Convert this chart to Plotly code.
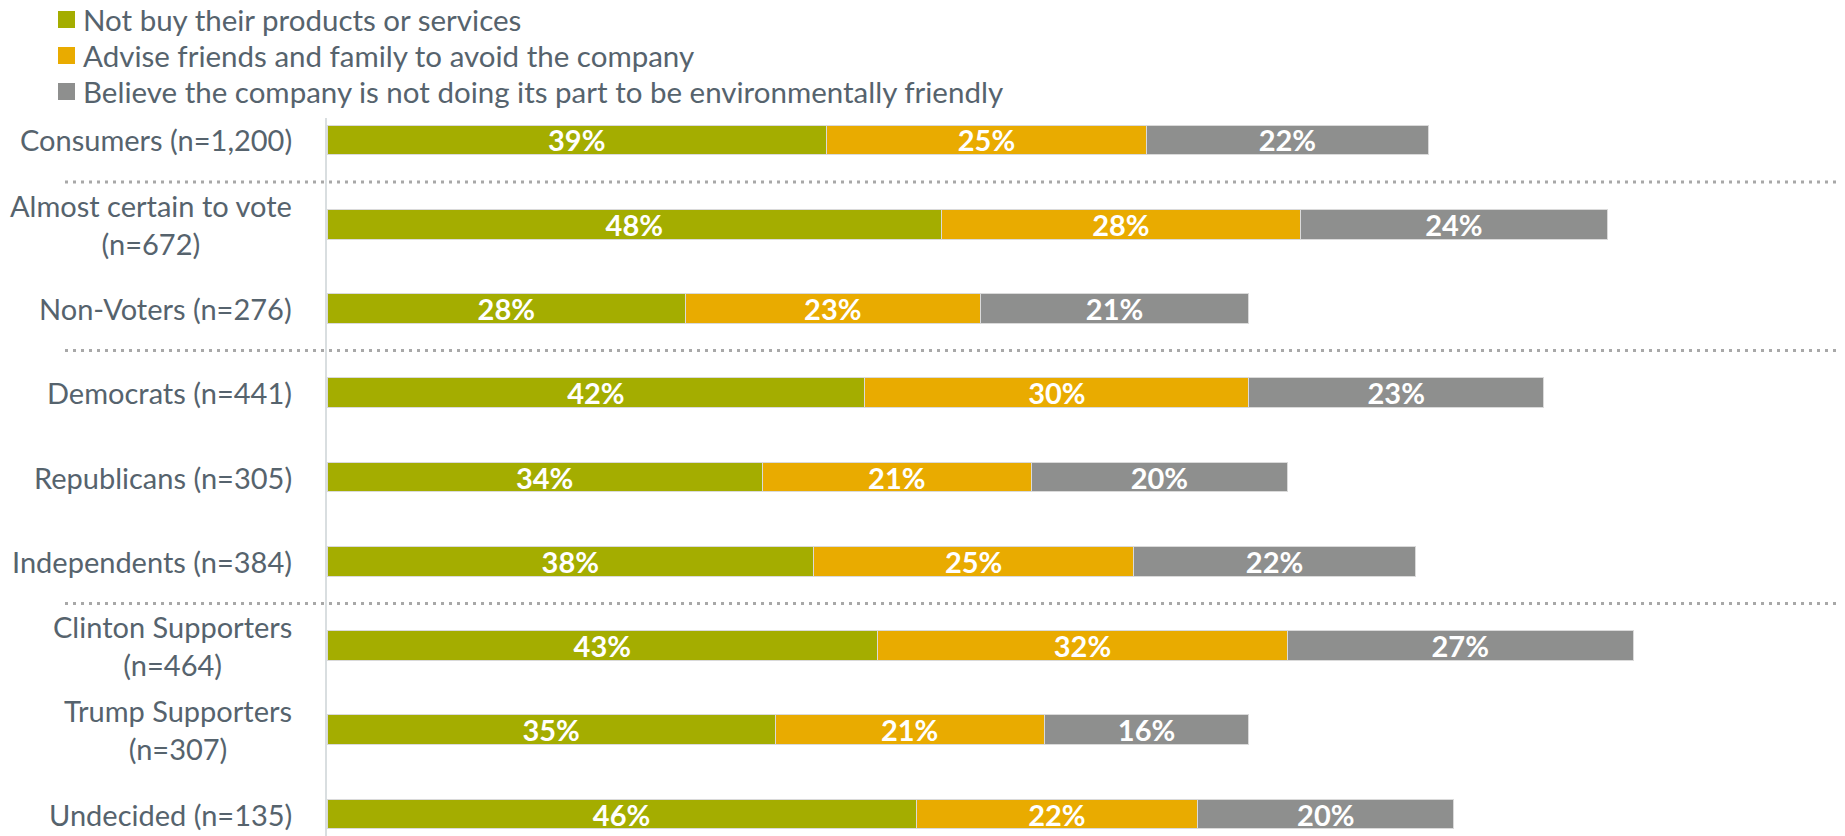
import plotly.graph_objects as go

# Survey groups (top to bottom) and the share choosing each reaction
groups = [
    "Consumers (n=1,200)",
    "Almost certain to vote<br>(n=672)",
    "Non-Voters (n=276)",
    "Democrats (n=441)",
    "Republicans (n=305)",
    "Independents (n=384)",
    "Clinton Supporters<br>(n=464)",
    "Trump Supporters<br>(n=307)",
    "Undecided (n=135)",
]
not_buy = [39, 48, 28, 42, 34, 38, 43, 35, 46]
advise_avoid = [25, 28, 23, 30, 21, 25, 32, 21, 22]
not_green = [22, 24, 21, 23, 20, 22, 27, 16, 20]

series_names = [
    "Not buy their products or services",
    "Advise friends and family to avoid the company",
    "Believe the company is not doing its part to be environmentally friendly",
]
series_values = [not_buy, advise_avoid, not_green]
series_colors = ["#A4AD00", "#E9AB00", "#8E8F8E"]

# Group boundaries drawn as dotted separators (after these row positions)
separators_after = [0, 2, 5]

FONT = "Lato, 'Open Sans', sans-serif"
TEXT_COLOR = "#56636D"

# Figure geometry (pixels)
W, H = 1845, 836
ML, MR, MT, MB = 327, 7, 118, 0
PW, PH = W - ML - MR, H - MT - MB


def px_x(px):
    """Horizontal pixel -> paper fraction."""
    return (px - ML) / PW


def px_y(py):
    """Vertical pixel (from top) -> paper fraction."""
    return 1 + (MT - py) / PH


rows = list(range(len(groups)))

fig = go.Figure()
for name, vals, color in zip(series_names, series_values, series_colors):
    fig.add_trace(
        go.Bar(
            name=name,
            x=vals,
            y=rows,
            orientation="h",
            width=0.355,
            marker=dict(color=color, line=dict(color="#DADADA", width=1)),
            text=[f"{v}%" for v in vals],
            textposition="inside",
            insidetextanchor="middle",
            textangle=0,
            constraintext="none",
            textfont=dict(family=FONT, size=29, color="white", weight="bold"),
            hoverinfo="skip",
            showlegend=False,
        )
    )

# Legend: square swatch + label per series, stacked above the plot
legend_rows_px = [19.5, 55.5, 91.5]
for name, color, cy in zip(series_names, series_colors, legend_rows_px):
    fig.add_shape(
        type="rect", xref="paper", yref="paper",
        x0=px_x(58), x1=px_x(75), y0=px_y(cy + 8.5), y1=px_y(cy - 8.5),
        fillcolor=color, line=dict(width=0),
    )
    fig.add_annotation(
        x=px_x(81), xref="paper", y=px_y(cy), yref="paper",
        text=name, showarrow=False, xanchor="left", yanchor="middle",
        font=dict(family=FONT, size=29.5, color=TEXT_COLOR),
    )

# Category labels, each line centred within its block
for r, label in zip(rows, groups):
    fig.add_annotation(
        x=px_x(294), xref="paper", y=r, yref="y",
        text=label, showarrow=False,
        xanchor="right", yanchor="middle", align="center",
        font=dict(family=FONT, size=29, color=TEXT_COLOR),
    )

for r in separators_after:
    fig.add_shape(
        type="line", xref="paper", yref="y",
        x0=px_x(65), x1=1.0, y0=r + 0.5, y1=r + 0.5,
        line=dict(color="#A8A8A8", width=3, dash="3px,5px"),
    )

fig.update_layout(
    width=W,
    height=H,
    margin=dict(l=ML, r=MR, t=MT, b=MB, autoexpand=False),
    barmode="stack",
    plot_bgcolor="white",
    paper_bgcolor="white",
    showlegend=False,
    xaxis=dict(
        range=[0, 118],
        showgrid=False, zeroline=False, showticklabels=False, showline=False,
    ),
    yaxis=dict(
        range=[8.261, -0.261],
        showgrid=False, zeroline=False, showticklabels=False,
        showline=True, linecolor="#D9DEE0", linewidth=2,
    ),
)

fig.write_html("out.html")
